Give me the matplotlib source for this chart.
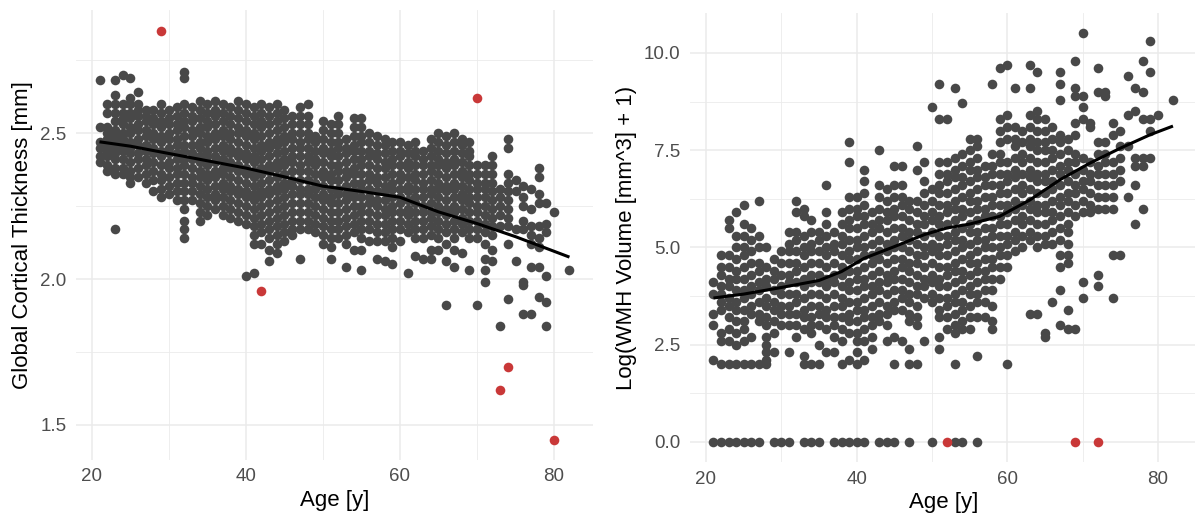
import numpy as np
import matplotlib
matplotlib.use("Agg")
import matplotlib.pyplot as plt
from matplotlib.ticker import MultipleLocator

plt.rcParams['font.family'] = ['Liberation Sans', 'DejaVu Sans']

# ---- left panel: global cortical thickness ----
ct_ages = list(range(21, 81)) + [82]
ct_values = [
    [2.68, 2.52, 2.47, 2.45, 2.42, 2.40],
    [2.60, 2.57, 2.52, 2.50, 2.48, 2.46, 2.44, 2.42, 2.39, 2.37],
    [2.68, 2.63, 2.60, 2.57, 2.54, 2.51, 2.49, 2.47, 2.45, 2.43, 2.41, 2.38, 2.36, 2.17],
    [2.70, 2.60, 2.57, 2.55, 2.53, 2.50, 2.48, 2.46, 2.44, 2.41, 2.38, 2.36],
    [2.69, 2.62, 2.60, 2.57, 2.55, 2.52, 2.50, 2.47, 2.45, 2.43, 2.40, 2.37, 2.35, 2.33],
    [2.64, 2.60, 2.58, 2.56, 2.53, 2.51, 2.48, 2.46, 2.43, 2.41, 2.38, 2.35],
    [2.58, 2.56, 2.54, 2.51, 2.49, 2.46, 2.44, 2.41, 2.39, 2.36, 2.33],
    [2.58, 2.55, 2.53, 2.50, 2.48, 2.45, 2.43, 2.40, 2.37, 2.34, 2.30],
    [2.60, 2.57, 2.54, 2.52, 2.49, 2.47, 2.44, 2.42, 2.39, 2.36, 2.34, 2.31, 2.28],
    [2.58, 2.55, 2.53, 2.50, 2.48, 2.45, 2.43, 2.40, 2.38, 2.35, 2.32, 2.29],
    [2.59, 2.56, 2.53, 2.51, 2.48, 2.46, 2.43, 2.41, 2.38, 2.36, 2.33, 2.30, 2.27],
    [2.71, 2.69, 2.60, 2.57, 2.54, 2.52, 2.49, 2.46, 2.44, 2.41, 2.39, 2.36, 2.33, 2.30, 2.27, 2.24, 2.20, 2.17, 2.14],
    [2.59, 2.56, 2.54, 2.51, 2.49, 2.46, 2.43, 2.41, 2.38, 2.35, 2.33, 2.30, 2.27],
    [2.61, 2.58, 2.55, 2.52, 2.50, 2.47, 2.45, 2.42, 2.40, 2.37, 2.35, 2.32, 2.29, 2.26, 2.23, 2.20],
    [2.60, 2.57, 2.54, 2.52, 2.49, 2.47, 2.44, 2.42, 2.39, 2.36, 2.34, 2.31, 2.28, 2.25, 2.22],
    [2.61, 2.58, 2.56, 2.53, 2.50, 2.48, 2.45, 2.42, 2.40, 2.37, 2.35, 2.32, 2.29, 2.27, 2.24],
    [2.60, 2.57, 2.54, 2.51, 2.49, 2.46, 2.44, 2.41, 2.38, 2.36, 2.33, 2.31, 2.28, 2.25, 2.22],
    [2.59, 2.56, 2.53, 2.50, 2.48, 2.45, 2.43, 2.40, 2.38, 2.35, 2.32, 2.30, 2.27, 2.24, 2.21],
    [2.61, 2.58, 2.55, 2.52, 2.50, 2.47, 2.44, 2.42, 2.39, 2.37, 2.34, 2.31, 2.29, 2.26, 2.23, 2.20],
    [2.60, 2.57, 2.54, 2.51, 2.49, 2.46, 2.43, 2.41, 2.38, 2.36, 2.33, 2.30, 2.28, 2.25, 2.22, 2.19, 2.01],
    [2.59, 2.56, 2.53, 2.50, 2.48, 2.45, 2.42, 2.40, 2.37, 2.35, 2.32, 2.29, 2.27, 2.24, 2.21, 2.18, 2.15, 2.12, 2.02],
    [2.60, 2.57, 2.54, 2.52, 2.49, 2.46, 2.44, 2.41, 2.38, 2.36, 2.33, 2.30, 2.28, 2.25, 2.22, 2.19, 2.16, 2.12],
    [2.59, 2.56, 2.53, 2.50, 2.47, 2.45, 2.42, 2.39, 2.37, 2.34, 2.31, 2.29, 2.26, 2.23, 2.20, 2.17, 2.14, 2.10, 2.06],
    [2.60, 2.57, 2.54, 2.51, 2.48, 2.46, 2.43, 2.40, 2.38, 2.35, 2.32, 2.30, 2.27, 2.24, 2.21, 2.18, 2.15, 2.12, 2.09],
    [2.58, 2.55, 2.52, 2.49, 2.47, 2.44, 2.41, 2.39, 2.36, 2.33, 2.31, 2.28, 2.25, 2.22, 2.19, 2.16, 2.13],
    [2.56, 2.53, 2.50, 2.48, 2.45, 2.42, 2.40, 2.37, 2.34, 2.32, 2.29, 2.26, 2.23, 2.20, 2.17, 2.15],
    [2.59, 2.56, 2.53, 2.50, 2.47, 2.45, 2.42, 2.39, 2.37, 2.34, 2.31, 2.29, 2.26, 2.23, 2.20, 2.17, 2.07],
    [2.60, 2.56, 2.53, 2.50, 2.48, 2.45, 2.42, 2.40, 2.37, 2.34, 2.31, 2.29, 2.26, 2.23, 2.20, 2.17],
    [2.49, 2.47, 2.44, 2.41, 2.39, 2.36, 2.33, 2.31, 2.28, 2.25, 2.22, 2.19, 2.16],
    [2.54, 2.51, 2.48, 2.45, 2.43, 2.40, 2.37, 2.35, 2.32, 2.29, 2.27, 2.24, 2.21, 2.18, 2.15, 2.12],
    [2.53, 2.50, 2.47, 2.44, 2.42, 2.39, 2.36, 2.34, 2.31, 2.28, 2.26, 2.23, 2.20, 2.17, 2.14, 2.11, 2.07],
    [2.56, 2.53, 2.50, 2.47, 2.45, 2.42, 2.39, 2.37, 2.34, 2.31, 2.29, 2.26, 2.23, 2.20, 2.17, 2.14],
    [2.48, 2.45, 2.43, 2.40, 2.37, 2.35, 2.32, 2.29, 2.27, 2.24, 2.21, 2.18, 2.15, 2.12, 2.04],
    [2.55, 2.52, 2.49, 2.46, 2.44, 2.41, 2.38, 2.36, 2.33, 2.30, 2.28, 2.25, 2.22, 2.19, 2.16, 2.10],
    [2.55, 2.52, 2.49, 2.47, 2.44, 2.41, 2.39, 2.36, 2.33, 2.31, 2.28, 2.25, 2.23, 2.20, 2.17, 2.14, 2.10, 2.03],
    [2.50, 2.47, 2.44, 2.42, 2.39, 2.36, 2.34, 2.31, 2.28, 2.26, 2.23, 2.20, 2.17, 2.13],
    [2.49, 2.46, 2.43, 2.41, 2.38, 2.35, 2.33, 2.30, 2.27, 2.25, 2.22, 2.19, 2.16, 2.13, 2.07],
    [2.48, 2.46, 2.43, 2.40, 2.38, 2.35, 2.32, 2.30, 2.27, 2.24, 2.22, 2.19, 2.16, 2.13, 2.06],
    [2.47, 2.44, 2.41, 2.39, 2.36, 2.33, 2.31, 2.28, 2.25, 2.23, 2.20, 2.17, 2.14, 2.11, 2.05],
    [2.47, 2.44, 2.42, 2.39, 2.36, 2.34, 2.31, 2.28, 2.26, 2.23, 2.20, 2.17, 2.13],
    [2.46, 2.43, 2.40, 2.38, 2.35, 2.32, 2.30, 2.27, 2.24, 2.22, 2.19, 2.16, 2.02],
    [2.47, 2.44, 2.42, 2.39, 2.36, 2.34, 2.31, 2.28, 2.26, 2.23, 2.20, 2.17, 2.14, 2.08],
    [2.44, 2.41, 2.39, 2.36, 2.33, 2.31, 2.28, 2.25, 2.23, 2.20, 2.17, 2.14, 2.07],
    [2.48, 2.45, 2.42, 2.39, 2.37, 2.34, 2.31, 2.29, 2.26, 2.23, 2.21, 2.18, 2.15, 2.10, 2.07],
    [2.50, 2.47, 2.44, 2.41, 2.39, 2.36, 2.33, 2.31, 2.28, 2.25, 2.23, 2.20, 2.17, 2.14, 2.10],
    [2.49, 2.46, 2.43, 2.40, 2.38, 2.35, 2.32, 2.30, 2.27, 2.24, 2.22, 2.19, 2.16, 2.12, 2.06, 1.91],
    [2.50, 2.47, 2.44, 2.41, 2.39, 2.36, 2.33, 2.31, 2.28, 2.25, 2.23, 2.20, 2.17, 2.14, 2.10, 2.04],
    [2.48, 2.46, 2.43, 2.40, 2.37, 2.35, 2.32, 2.29, 2.27, 2.24, 2.21, 2.19, 2.16, 2.09],
    [2.47, 2.44, 2.42, 2.39, 2.36, 2.34, 2.31, 2.28, 2.26, 2.23, 2.20, 2.17, 2.14, 2.03],
    [2.39, 2.36, 2.33, 2.31, 2.28, 2.25, 2.23, 2.20, 2.17, 2.14, 1.91],
    [2.39, 2.36, 2.33, 2.31, 2.28, 2.25, 2.22, 2.19, 2.16, 2.12, 2.07, 2.03, 1.99],
    [2.42, 2.39, 2.36, 2.33, 2.30, 2.27, 2.24, 2.21, 2.18, 2.15, 2.10, 2.06],
    [2.31, 2.28, 2.25, 2.22, 2.18, 1.84],
    [2.48, 2.45, 2.36, 2.33, 2.30, 2.27, 2.24, 2.21, 2.18, 2.12, 1.93],
    [2.34, 2.30, 2.17, 2.06],
    [2.32, 2.28, 2.25, 2.20, 2.17, 1.99, 1.98, 1.88],
    [2.31, 2.24, 2.18, 2.15, 2.12, 2.04, 1.88],
    [2.38, 2.35, 2.29, 2.26, 2.18, 2.14, 2.11, 2.04, 1.94],
    [2.26, 2.19, 2.16, 2.01, 1.92, 1.84],
    [2.23],
    [2.03],
]
ct_out_age = [29, 70, 42, 74, 73, 80]
ct_out_val = [2.85, 2.62, 1.96, 1.70, 1.62, 1.45]
ct_fit_age = [21, 25, 30, 35, 40, 45, 50, 55, 60, 65, 70, 75, 80, 82]
ct_fit_val = [2.47, 2.455, 2.43, 2.405, 2.38, 2.35, 2.318, 2.30, 2.28, 2.23, 2.19, 2.145, 2.095, 2.075]

# ---- right panel: log WMH volume ----
wmh_ages = list(range(21, 81)) + [82]
wmh_values = [
    [4.1, 3.8, 3.3, 3.0, 2.1],
    [4.8, 4.5, 4.3, 4.0, 3.8, 3.6, 3.4, 2.8, 2.6, 2.0],
    [5.7, 5.5, 4.8, 4.5, 4.2, 4.0, 3.7, 3.5, 3.2, 2.9, 2.6, 2.0],
    [5.9, 5.3, 5.0, 4.7, 4.4, 4.2, 3.9, 3.6, 3.4, 3.1, 2.8, 2.5, 2.0],
    [6.1, 5.6, 5.3, 5.0, 4.8, 4.5, 4.2, 3.9, 3.7, 3.4, 3.1, 2.9, 2.6, 2.0],
    [5.5, 5.2, 4.9, 4.6, 4.3, 4.0, 3.8, 3.5, 3.3, 2.7, 2.0],
    [6.2, 5.3, 5.0, 4.6, 4.4, 4.1, 3.9, 3.6, 3.3, 3.1, 2.0],
    [5.0, 4.5, 4.2, 4.0, 3.7, 3.5, 3.2, 3.0, 2.7, 2.5, 2.3, 2.1, 2.0],
    [4.7, 4.4, 4.2, 3.9, 3.6, 3.4, 3.1, 2.8, 2.3],
    [4.9, 4.6, 4.3, 4.0, 3.8, 3.5, 3.3, 3.0],
    [5.4, 5.1, 4.9, 4.6, 4.3, 4.1, 3.8, 3.5, 3.3, 3.0, 2.3],
    [6.2, 5.9, 5.4, 5.2, 4.9, 4.6, 4.4, 4.1, 3.8, 3.6, 3.3, 3.0, 2.7],
    [6.0, 5.8, 5.3, 5.0, 4.8, 4.5, 4.2, 4.0, 3.7, 3.4, 3.2, 2.9, 2.2, 2.0],
    [5.7, 5.4, 5.1, 4.9, 4.6, 4.3, 4.1, 3.8, 3.5, 3.2, 3.0, 2.8, 2.0],
    [5.4, 5.2, 4.9, 4.6, 4.3, 4.1, 3.8, 3.5, 3.3, 3.0, 2.5, 2.0],
    [6.6, 5.9, 5.6, 5.3, 5.0, 4.8, 4.5, 4.2, 4.0, 3.7, 3.4, 3.2, 2.9, 2.3],
    [5.4, 5.1, 4.9, 4.6, 4.3, 4.1, 3.8, 3.5, 3.2, 3.0, 2.7, 2.3],
    [5.9, 5.6, 5.3, 5.1, 4.8, 4.5, 4.3, 4.0, 3.7, 3.5, 3.2, 2.9, 2.6, 2.0],
    [7.7, 7.2, 6.3, 6.0, 5.7, 5.5, 5.2, 4.9, 4.7, 4.4, 4.1, 3.9, 3.6, 3.3, 3.1, 2.8, 2.1],
    [6.3, 6.0, 5.8, 5.5, 5.2, 5.0, 4.7, 4.4, 4.2, 3.9, 3.6, 3.4, 3.1, 2.8, 2.6, 2.3, 2.0],
    [7.0, 6.7, 6.4, 6.1, 5.8, 5.6, 5.3, 5.0, 4.8, 4.5, 4.2, 4.0, 3.7, 3.4, 3.2, 2.9, 2.6, 2.1],
    [5.9, 5.6, 5.4, 5.1, 4.8, 4.6, 4.3, 4.0, 3.8, 3.5, 3.2, 3.0, 2.7, 2.4],
    [7.5, 6.6, 6.3, 6.0, 5.7, 5.5, 5.2, 4.9, 4.7, 4.4, 4.1, 3.9, 3.6, 3.3, 3.1],
    [6.5, 6.2, 5.9, 5.7, 5.4, 5.1, 4.9, 4.6, 4.3, 4.1, 3.8, 3.5, 3.3, 3.0, 2.6],
    [7.1, 6.6, 6.3, 6.0, 5.8, 5.5, 5.2, 5.0, 4.7, 4.4, 4.2, 3.9, 3.6, 3.4, 2.7, 2.0],
    [7.1, 6.6, 6.3, 6.1, 5.8, 5.5, 5.3, 5.0, 4.7, 4.5, 4.2, 3.9, 3.7, 3.4, 2.6],
    [6.2, 6.0, 5.7, 5.4, 5.2, 4.9, 4.6, 4.4, 4.1, 3.8, 3.6, 3.3, 3.1, 2.4, 2.0],
    [7.6, 7.0, 6.2, 5.9, 5.6, 5.4, 5.1, 4.8, 4.6, 4.3, 4.0, 3.8, 3.5, 3.2, 3.0, 2.0],
    [7.2, 6.7, 6.4, 6.1, 5.8, 5.6, 5.3, 5.0, 4.8, 4.5, 4.2, 4.0, 3.7, 2.6],
    [8.6, 6.5, 6.2, 5.9, 5.7, 5.4, 5.1, 4.9, 4.6, 4.3, 4.1, 3.8, 3.6],
    [9.2, 8.3, 7.2, 6.9, 6.6, 6.4, 6.1, 5.8, 5.6, 5.3, 5.0, 4.8, 4.5, 4.2, 4.0, 3.7, 3.4, 3.2, 2.7, 2.4],
    [8.3, 7.2, 6.9, 6.7, 6.4, 6.1, 5.9, 5.6, 5.3, 5.1, 4.8, 4.5, 4.3, 4.0, 3.7, 3.5, 3.2, 2.9],
    [9.1, 7.3, 7.0, 6.8, 6.5, 6.2, 6.0, 5.7, 5.4, 5.2, 4.9, 4.6, 4.4, 4.1, 3.8, 3.6, 3.3, 3.0, 2.8, 2.0],
    [8.7, 7.4, 7.1, 6.8, 6.6, 6.3, 6.0, 5.8, 5.5, 5.2, 5.0, 4.7, 4.4, 4.2, 3.9, 3.6, 3.4, 3.1, 2.9],
    [7.8, 7.5, 7.2, 7.0, 6.7, 6.4, 6.2, 5.9, 5.6, 5.4, 5.1, 4.8, 4.6, 4.3, 4.0, 3.8, 3.5, 3.2, 2.9],
    [7.8, 7.6, 7.3, 7.0, 6.8, 6.5, 6.2, 6.0, 5.7, 5.4, 5.2, 4.9, 4.6, 4.4, 4.1, 3.8, 3.6, 3.2, 2.2],
    [7.1, 6.8, 6.6, 6.3, 6.0, 5.8, 5.5, 5.2, 5.0, 4.7, 4.4, 4.2, 3.9, 3.6, 3.2],
    [9.2, 7.4, 7.1, 6.9, 6.6, 6.3, 6.1, 5.8, 5.5, 5.3, 5.0, 4.7, 4.5, 4.2, 3.9, 3.5, 3.1, 2.9],
    [9.6, 8.3, 8.0, 7.7, 7.4, 7.2, 6.9, 6.6, 6.4, 6.1, 5.8, 5.6, 5.3, 5.0, 4.8, 4.5, 4.2],
    [9.7, 8.4, 8.1, 7.8, 7.2, 6.9, 6.7, 6.4, 6.1, 5.9, 5.6, 5.3, 5.1, 4.8, 4.5, 2.0],
    [9.1, 8.1, 7.8, 7.6, 7.3, 7.0, 6.8, 6.5, 6.2, 6.0, 5.7, 5.4, 5.2, 4.9],
    [8.0, 7.7, 7.4, 7.2, 6.9, 6.6, 6.4, 6.1, 5.8, 5.6, 5.3, 5.0],
    [9.7, 9.1, 8.4, 8.1, 7.8, 7.6, 7.3, 7.0, 6.8, 6.5, 6.2, 6.0, 5.7, 5.4, 5.2, 3.3],
    [9.5, 8.5, 8.3, 8.0, 7.7, 7.5, 7.2, 6.9, 6.7, 6.4, 6.1, 5.9, 5.6, 5.3, 5.0, 3.3],
    [8.3, 8.0, 7.7, 7.5, 7.2, 6.9, 6.7, 6.4, 6.1, 5.9, 5.6, 5.3, 5.1, 2.8, 2.7],
    [8.1, 7.8, 7.5, 7.3, 7.0, 6.7, 6.5, 6.2, 5.9, 5.7, 5.4, 5.1, 3.6],
    [9.5, 9.2, 8.8, 7.9, 7.7, 7.4, 7.1, 6.9, 6.6, 6.3, 6.1, 5.8, 5.5, 5.2, 4.8, 4.5, 3.9, 3.0],
    [7.8, 7.5, 7.2, 7.0, 6.7, 6.4, 6.2, 5.9, 5.6, 5.4, 5.1, 4.8, 4.6, 3.4, 2.9],
    [9.8, 9.1, 8.9, 8.2, 7.9, 7.4, 7.2, 6.9, 6.6, 6.4, 6.1, 5.8, 2.9],
    [10.5, 8.9, 8.6, 8.3, 7.3, 7.0, 6.7, 6.5, 6.2, 5.9, 4.1, 3.7],
    [8.2, 8.1, 7.2, 6.9, 6.7, 6.4, 6.1, 5.9],
    [9.6, 9.0, 7.7, 7.4, 7.1, 6.9, 6.6, 6.3, 6.0, 4.3, 4.0],
    [9.0, 8.9, 7.7, 7.4, 7.2, 6.9, 6.6, 6.3, 6.0],
    [8.2, 7.9, 7.2, 6.9, 6.6, 6.3, 6.0, 4.8, 3.7],
    [8.0, 7.6, 7.3, 7.0, 6.7, 4.8],
    [9.4, 8.4, 7.6, 6.3],
    [9.1, 8.5, 7.3, 7.1, 6.6, 5.6],
    [9.8, 9.0, 8.3, 7.3, 7.1, 6.0],
    [10.3, 9.5, 8.3, 8.0, 7.3],
    [8.4],
    [8.8],
]
wmh_zero_ages = [21, 22, 23, 24, 25, 26, 27, 29, 30, 31, 33, 34, 35, 37, 38, 39,
                 40, 41, 43, 44, 45, 47, 50, 53, 54, 56]
wmh_out_age = [52, 69, 72]
wmh_out_val = [0.0, 0.0, 0.0]
wmh_fit_age = [21, 25, 30, 35, 38, 41, 45, 49, 52, 55, 59, 63, 67, 71, 75, 79, 82]
wmh_fit_val = [3.7, 3.8, 3.97, 4.15, 4.38, 4.72, 5.02, 5.33, 5.5, 5.6, 5.8, 6.22,
               6.74, 7.17, 7.55, 7.9, 8.12]

GRAY = '#484848'
RED = '#C93838'
GRID = '#EBEBEB'
PT = 48


def flatten(ages, values):
    xs, ys = [], []
    for a, vals in zip(ages, values):
        xs += [a] * len(vals)
        ys += vals
    return np.array(xs), np.array(ys)


def style(ax, xlim, ylim, ymajor, yfmt, ylabel):
    ax.set_xlim(*xlim)
    ax.set_ylim(*ylim)
    ax.xaxis.set_major_locator(MultipleLocator(20))
    ax.xaxis.set_minor_locator(MultipleLocator(10))
    ax.yaxis.set_major_locator(MultipleLocator(ymajor))
    ax.yaxis.set_minor_locator(MultipleLocator(ymajor / 2))
    ax.yaxis.set_major_formatter(plt.FormatStrFormatter(yfmt))
    ax.grid(which='major', color=GRID, lw=1.1)
    ax.grid(which='minor', color=GRID, lw=0.6)
    ax.set_axisbelow(True)
    for s in ax.spines.values():
        s.set_visible(False)
    ax.tick_params(which='both', length=0, labelsize=13.5, labelcolor='#4D4D4D')
    ax.tick_params(axis='y', pad=7)
    ax.tick_params(axis='x', pad=6)
    ax.set_xlabel('Age [y]', fontsize=16, labelpad=3)
    ax.set_ylabel(ylabel, fontsize=16, labelpad=5)


fig = plt.figure(figsize=(11.95, 5.24), dpi=100)

ax1 = fig.add_axes([0.0636, 0.1221, 0.4326, 0.858])
x, y = flatten(ct_ages, ct_values)
ax1.scatter(x, y, s=PT, color=GRAY, linewidths=0, zorder=2)
ax1.scatter(ct_out_age, ct_out_val, s=PT, color=RED, linewidths=0, zorder=3)
ax1.plot(ct_fit_age, ct_fit_val, color='black', lw=2.2, zorder=4,
         solid_capstyle='butt')
style(ax1, (17.95, 85.05), (1.38, 2.92), 0.5, '%.1f',
      'Global Cortical Thickness [mm]')

ax2 = fig.add_axes([0.5778, 0.1176, 0.4230, 0.8575])
x, y = flatten(wmh_ages, wmh_values)
ax2.scatter(x, y, s=PT, color=GRAY, linewidths=0, zorder=2)
ax2.scatter(wmh_zero_ages, [0.0] * len(wmh_zero_ages), s=PT, color=GRAY,
            linewidths=0, zorder=2)
ax2.scatter(wmh_out_age, wmh_out_val, s=PT, color=RED, linewidths=0, zorder=3)
ax2.plot(wmh_fit_age, wmh_fit_val, color='black', lw=2.2, zorder=4,
         solid_capstyle='butt')
style(ax2, (17.95, 85.05), (-0.525, 11.025), 2.5, '%.1f',
      'Log(WMH Volume [mm^3] + 1)')

fig.savefig('out.png', dpi=100)
